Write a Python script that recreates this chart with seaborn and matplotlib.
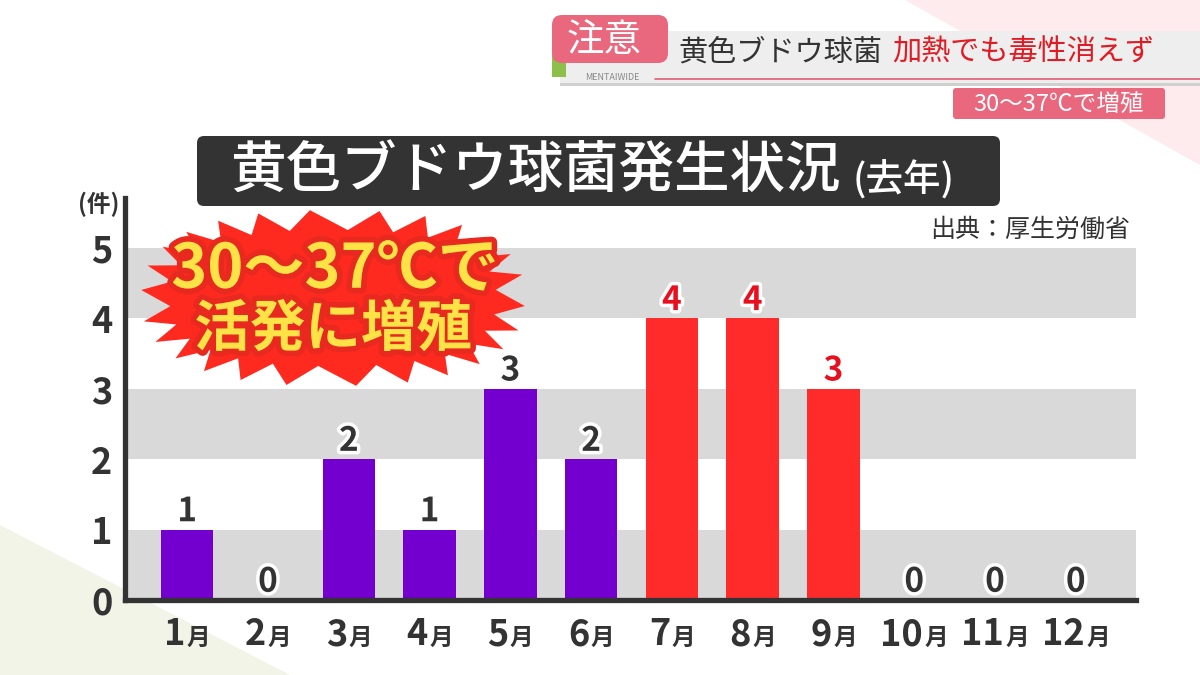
import numpy as np
import pandas as pd
import matplotlib
matplotlib.use("Agg")
import matplotlib.pyplot as plt
import matplotlib.patheffects as pe
from matplotlib.patches import Polygon, FancyBboxPatch, Rectangle
from matplotlib.offsetbox import TextArea, HPacker, AnnotationBbox
import seaborn as sns

# ---------------- data ----------------
months = ["1月", "2月", "3月", "4月", "5月", "6月", "7月", "8月", "9月", "10月", "11月", "12月"]
month_nums = ["1", "2", "3", "4", "5", "6", "7", "8", "9", "10", "11", "12"]
month_suffix = "月"
counts = [1, 0, 2, 1, 3, 2, 4, 4, 3, 0, 0, 0]
hot_months = ["7月", "8月", "9月"]
y_ticks = [0, 1, 2, 3, 4, 5]
y_unit = "(件)"
title_main = "黄色ブドウ球菌発生状況"
title_sub = "(去年)"
source_text = "出典：厚生労働省"
burst_line1 = "30〜37℃で"
burst_line2 = "活発に増殖"
header_badge = "注意"
header_black = "黄色ブドウ球菌"
header_red = "加熱でも毒性消えず"
header_sub = "30〜37℃で増殖"
brand = "MENTAIWIDE"

# ---------------- style ----------------
PURPLE = "#7300cf"
RED = "#ff2a2a"
BAND = "#d9d9d9"
DARK = "#333333"
LABEL_RED = "#e8101e"
PINK = "#e9687d"

sns.set_theme(style="white")
plt.rcParams['font.family'] = ['Noto Sans CJK JP', 'DejaVu Sans']

W, H = 1200, 675
fig = plt.figure(figsize=(12, 6.75), dpi=100)
fig.patch.set_facecolor("white")

# background decoration layer (pixel coordinates)
bg = fig.add_axes([0, 0, 1, 1], zorder=0)
bg.set_xlim(0, W); bg.set_ylim(H, 0); bg.axis("off")
bg.add_patch(Polygon([(905, 0), (1200, 0), (1200, 165)], closed=True, fc="#fdebee", lw=0))
bg.add_patch(Polygon([(0, 525), (0, 675), (290, 675)], closed=True, fc="#f1f4e6", lw=0))

# ---------------- main chart ----------------
ax = fig.add_axes([125 / W, 1 - 600 / H, (1136 - 125) / W, (600 - 198) / H], zorder=2)
ax.patch.set_alpha(0)

df = pd.DataFrame({"month": months, "count": counts})
bar_colors = [RED if m in hot_months else PURPLE for m in months]
label_colors = [LABEL_RED if m in hot_months else DARK for m in months]

for lo in (0, 2, 4):
    ax.axhspan(lo, lo + 1, color=BAND, lw=0, zorder=0)

sns.barplot(data=df, x="month", y="count", hue="month", palette=bar_colors,
            legend=False, width=0.65, saturation=1, ax=ax, zorder=3,
            linewidth=0, edgecolor="none")

ax.set_xlim(-0.77, 11.745)
ax.set_ylim(0, 5.71)
for s in ("top", "right"):
    ax.spines[s].set_visible(False)
for s in ("left", "bottom"):
    ax.spines[s].set_linewidth(3.8)
    ax.spines[s].set_color(DARK)
    ax.spines[s].set_zorder(6)

ax.set_yticks(y_ticks)
ax.set_yticklabels([str(v) for v in y_ticks], fontsize=26, fontweight="bold", color=DARK)
ax.tick_params(axis="y", length=0, pad=9)
ax.set_xticks(range(len(months)))
ax.set_xticklabels([])
ax.tick_params(axis="x", length=0)
ax.set_xlabel("")
ax.set_ylabel("")
ax.grid(False)

# month labels: big number + small 月
for i, num in enumerate(month_nums):
    box = HPacker(children=[
        TextArea(num, textprops=dict(fontsize=26, fontweight="bold", color=DARK)),
        TextArea(month_suffix, textprops=dict(fontsize=17, fontweight="bold", color=DARK)),
    ], align="baseline", pad=0, sep=1)
    ab = AnnotationBbox(box, (i, 0), xycoords=("data", "axes fraction"),
                        xybox=(0, -25), boxcoords="offset points",
                        box_alignment=(0.5, 0.5), frameon=False, pad=0)
    ax.add_artist(ab)

# value labels
for i, (v, c) in enumerate(zip(counts, label_colors)):
    ax.annotate(str(v), (i, v), xytext=(0, 6), textcoords="offset points",
                ha="center", va="baseline", fontsize=24, fontweight="bold", color=c,
                path_effects=[pe.withStroke(linewidth=5, foreground="white")], zorder=7)

# unit label
ax.text(-0.006, 0.985, y_unit, transform=ax.transAxes, ha="right", va="center",
        fontsize=17, fontweight="bold", color=DARK)

# ---------------- foreground decoration layer ----------------
fg = fig.add_axes([0, 0, 1, 1], zorder=5)
fg.set_xlim(0, W); fg.set_ylim(H, 0); fg.axis("off")
fg.patch.set_alpha(0)

# title box
fg.add_patch(FancyBboxPatch((197, 136), 803, 70,
                            boxstyle="round,pad=0,rounding_size=7",
                            fc=DARK, ec="none"))
fg.text(230, 172, title_main, ha="left", va="center", fontsize=40,
        fontweight="medium", color="white")
fg.text(853, 180, title_sub, ha="left", va="center", fontsize=27,
        fontweight="medium", color="white")

# source
fg.text(1130, 230, source_text, ha="right", va="center", fontsize=18, color=DARK)

# starburst
cx, cy = 333, 298
n_sp = 26
pts = []
for k in range(2 * n_sp):
    t = np.pi * k / n_sp + 0.05
    if k % 2 == 0:
        a, b = 192, 88
    else:
        a, b = 163, 68
    ct, st = np.cos(t), np.sin(t)
    x = a * np.sign(ct) * abs(ct) ** (2 / 2.5)
    y = b * np.sign(st) * abs(st) ** (2 / 2.5)
    pts.append((cx + x, cy + y))
fg.add_patch(Polygon(pts, closed=True, fc="#ff2a1f", ec="none"))
stroke = [pe.withStroke(linewidth=8, foreground="#e8291f")]
fg.text(335, 270, burst_line1, ha="center", va="center", fontsize=44,
        fontweight="bold", color="#ffe245", path_effects=stroke)
fg.text(333, 330, burst_line2, ha="center", va="center", fontsize=40,
        fontweight="bold", color="#ffe245", path_effects=stroke)

# header banner
fg.add_patch(Rectangle((560, 31), 640, 52, fc="#eeeeee", ec="none"))
fg.add_patch(Rectangle((560, 83), 640, 3, fc="#d0d0d0", ec="none"))
fg.plot([655, 1200], [79, 79], color="#e25b6e", lw=1.2)
fg.add_patch(Rectangle((552, 55), 14, 22, fc="#8cc04a", ec="none"))
fg.add_patch(FancyBboxPatch((552, 15), 116, 48,
                            boxstyle="round,pad=0,rounding_size=10",
                            fc=PINK, ec="none"))
fg.text(604, 40, header_badge, ha="center", va="center", fontsize=27, color="white")
fg.text(612, 77, brand, ha="center", va="center", fontsize=6.5, color="#888888")
fg.text(678, 53, header_black, ha="left", va="center", fontsize=21, color=DARK)
fg.text(892, 53, header_red, ha="left", va="center", fontsize=21, color="#e01b24")
fg.add_patch(FancyBboxPatch((953, 88), 212, 31,
                            boxstyle="round,pad=0,rounding_size=3",
                            fc=PINK, ec="none"))
fg.text(1059, 104, header_sub, ha="center", va="center", fontsize=17, color="white")

fig.savefig("out.png", dpi=100, facecolor=fig.get_facecolor())
